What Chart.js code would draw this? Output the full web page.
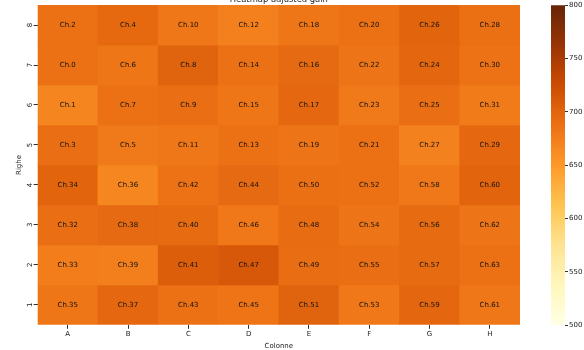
<!DOCTYPE html>
<html>
<head>
<meta charset="utf-8">
<script src="https://cdn.jsdelivr.net/npm/chart.js@4.4.1/dist/chart.umd.min.js"></script>
<style>
  html, body { margin: 0; padding: 0; background: #fff; overflow: hidden; }
  #wrap { position: relative; width: 584px; height: 350px; overflow: hidden; }
  #heat { position: absolute; left: 0; top: -10px; }
  #cbar { position: absolute; left: 548px; top: 0; }
</style>
</head>
<body>
<div id="wrap">
  <canvas id="heat" width="522" height="360"></canvas>
  <canvas id="cbar" width="36" height="350"></canvas>
</div>
<script>
const columns = ["A", "B", "C", "D", "E", "F", "G", "H"];
const rows = [8, 7, 6, 5, 4, 3, 2, 1];

const chRow8 = [2, 4, 10, 12, 18, 20, 26, 28];
const chRow7 = [0, 6, 8, 14, 16, 22, 24, 30];
const chRow6 = [1, 7, 9, 15, 17, 23, 25, 31];
const chRow5 = [3, 5, 11, 13, 19, 21, 27, 29];
const chRow4 = [34, 36, 42, 44, 50, 52, 58, 60];
const chRow3 = [32, 38, 40, 46, 48, 54, 56, 62];
const chRow2 = [33, 39, 41, 47, 49, 55, 57, 63];
const chRow1 = [35, 37, 43, 45, 51, 53, 59, 61];

const gainRow8 = [687, 695, 681, 673, 682, 688, 699, 689];
const gainRow7 = [688, 682, 701, 687, 694, 683, 697, 686];
const gainRow6 = [668, 688, 690, 682, 696, 679, 690, 678];
const gainRow5 = [690, 679, 681, 688, 683, 688, 672, 696];
const gainRow4 = [699, 667, 686, 694, 689, 688, 680, 699];
const gainRow3 = [690, 694, 693, 680, 692, 683, 693, 683];
const gainRow2 = [676, 674, 706, 712, 691, 690, 693, 688];
const gainRow1 = [682, 696, 688, 684, 701, 680, 697, 681];

const colorTicks = [500, 550, 600, 650, 700, 750, 800];
const vmin = 500, vmax = 800;

const chRows = [chRow8, chRow7, chRow6, chRow5, chRow4, chRow3, chRow2, chRow1];
const gainRows = [gainRow8, gainRow7, gainRow6, gainRow5, gainRow4, gainRow3, gainRow2, gainRow1];

// YlOrBr
const ylorbr = [
    [255, 255, 229], [255, 247, 188], [254, 227, 145], [254, 196, 79], [254, 153, 41],
    [236, 112, 20], [204, 76, 2], [153, 52, 4], [102, 37, 6]
];

function getColor(v) {
    let t = (v - vmin) / (vmax - vmin);
    t = Math.max(0, Math.min(1, t)) * (ylorbr.length - 1);
    const i = Math.min(Math.floor(t), ylorbr.length - 2);
    const f = t - i;
    const a = ylorbr[i], b = ylorbr[i + 1];
    const c = a.map((x, k) => Math.round(x + (b[k] - x) * f));
    return "rgb(" + c.join(",") + ")";
}

const FONT = "DejaVu Sans";

const cellLabels = {
    id: "cellLabels",
    afterDatasetsDraw(chart) {
        const ctx = chart.ctx;
        ctx.save();
        ctx.font = "7px '" + FONT + "'";
        ctx.fillStyle = "#111";
        ctx.textAlign = "center";
        ctx.textBaseline = "middle";
        chart.data.datasets.forEach((ds, i) => {
            chart.getDatasetMeta(i).data.forEach((bar, j) => {
                ctx.fillText("Ch." + chRows[i][j], bar.x, (bar.y + bar.base) / 2);
            });
        });
        ctx.restore();
    }
};

new Chart(document.getElementById("heat").getContext("2d"), {
    type: "bar",
    data: {
        labels: columns,
        datasets: rows.map((r, i) => ({
            label: "Row " + r,
            data: gainRows[i].map(() => [r - 0.5, r + 0.5]),
            backgroundColor: gainRows[i].map(getColor),
            borderWidth: 0,
            borderSkipped: false,
            grouped: false,
            barPercentage: 1,
            categoryPercentage: 1
        }))
    },
    options: {
        responsive: false,
        animation: false,
        events: [],
        layout: { padding: { left: 2, right: 2, top: 5, bottom: 0 } },
        plugins: {
            legend: { display: false },
            tooltip: { enabled: false },
            title: {
                display: true,
                text: "Heatmap adjusted gain",
                fullSize: false,
                color: "#222",
                font: { family: FONT, size: 8.4, weight: "normal" },
                padding: { top: 0, bottom: 0 }
            }
        },
        scales: {
            x: {
                grid: { display: true, offset: false, drawOnChartArea: false, tickLength: 4, tickColor: "#333" },
                border: { display: false },
                ticks: { color: "#222", font: { family: FONT, size: 7 }, padding: 1 },
                title: {
                    display: true, text: "Colonne", color: "#222",
                    font: { family: FONT, size: 7 }, padding: { top: 2.4, bottom: 0 }
                }
            },
            y: {
                min: 0.5,
                max: 8.5,
                afterBuildTicks: s => { s.ticks = rows.map(v => ({ value: v })); },
                grid: { display: true, drawOnChartArea: false, tickLength: 4, tickColor: "#333" },
                border: { display: false },
                ticks: {
                    color: "#222", font: { family: FONT, size: 7 }, padding: 1,
                    minRotation: 90, maxRotation: 90, crossAlign: "center"
                },
                title: {
                    display: true, text: "Righe", color: "#222",
                    font: { family: FONT, size: 7 }, padding: { top: 12.8, bottom: 0 }
                }
            }
        }
    },
    plugins: [cellLabels]
});

new Chart(document.getElementById("cbar").getContext("2d"), {
    type: "bar",
    data: {
        labels: [""],
        datasets: [{
            data: [[vmin, vmax]],
            backgroundColor: ctx => {
                const chart = ctx.chart;
                const y = chart.scales.y;
                if (!chart.chartArea || !y) return getColor(650);
                const g = chart.ctx.createLinearGradient(0, y.getPixelForValue(vmin), 0, y.getPixelForValue(vmax));
                ylorbr.forEach((c, k) => g.addColorStop(k / (ylorbr.length - 1), "rgb(" + c.join(",") + ")"));
                return g;
            },
            borderWidth: 0,
            barPercentage: 1,
            categoryPercentage: 1
        }]
    },
    options: {
        responsive: false,
        animation: false,
        events: [],
        layout: { padding: { left: 3, right: 0, top: 5, bottom: 25 } },
        plugins: { legend: { display: false }, tooltip: { enabled: false } },
        scales: {
            x: { display: false },
            y: {
                position: "right",
                min: vmin,
                max: vmax,
                afterBuildTicks: s => { s.ticks = colorTicks.map(v => ({ value: v })); },
                afterFit: s => { s.width = 19; },
                grid: { display: true, drawOnChartArea: false, tickLength: 3, tickColor: "#333" },
                border: { display: false },
                ticks: { color: "#222", font: { family: FONT, size: 7 }, padding: 1 }
            }
        }
    }
});
</script>
</body>
</html>
